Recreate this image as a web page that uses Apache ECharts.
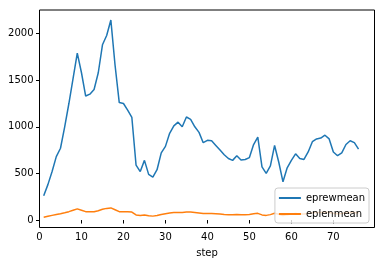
<!DOCTYPE html>
<html>
<head>
<meta charset="utf-8">
<script src="https://cdn.jsdelivr.net/npm/echarts@6/dist/echarts.min.js"></script>
<style>html,body{margin:0;padding:0;background:#fff;}#c{width:384px;height:266px;}</style>
</head>
<body>
<div id="c"></div>
<script>
const steps = [];
for (let i = 1; i <= 76; i++) steps.push(i);
const eprewmean = [260,380,520,680,770,1000,1250,1520,1790,1580,
  1330,1350,1400,1580,1880,1980,2145,1660,1260,1250,
  1180,1100,590,520,640,490,460,540,720,790,
  930,1010,1050,1000,1105,1080,1000,940,830,855,
  850,800,750,700,660,640,690,645,650,670,
  810,890,570,500,580,800,620,410,560,640,
  710,660,650,730,840,870,880,910,870,730,
  690,720,810,850,830,760];
const eplenmean = [30,40,50,60,68,78,90,105,120,105,
  90,88,90,100,115,125,130,110,90,88,
  88,85,55,50,55,45,42,48,60,68,
  75,80,82,82,86,85,80,75,70,70,
  70,68,65,60,58,58,60,58,58,60,
  68,72,55,50,58,72,62,48,58,65,
  70,66,65,70,78,80,82,85,82,72,
  68,70,78,80,80,75];
const xTicks = [0,10,20,30,40,50,60,70];
const yTicks = [0,500,1000,1500,2000];

const font = 'DejaVu Sans';
const chart = echarts.init(document.getElementById('c'), null, {renderer:'canvas'});
chart.setOption({
  animation: false,
  backgroundColor: '#fff',
  grid: {left: 39.5, right: 9.5, top: 10, bottom: 38.5, show: true, borderColor: '#000', borderWidth: 1, backgroundColor: 'transparent'},
  xAxis: {
    type: 'value', min: 0, max: 79.8,
    name: 'step', nameLocation: 'middle', nameGap: 21,
    nameTextStyle: {fontFamily: font, fontSize: 10, color: '#000'},
    axisLine: {show: false},
    splitLine: {show: false},
    axisTick: {show: true, inside: false, length: 3.5, lineStyle: {color: '#000'}, customValues: xTicks},
    axisLabel: {fontFamily: font, fontSize: 10, color: '#000', margin: 5, customValues: xTicks, formatter: v => String(v)}
  },
  yAxis: {
    type: 'value', min: -80, max: 2253,
    axisLine: {show: false},
    splitLine: {show: false},
    axisTick: {show: true, inside: false, length: 3.5, lineStyle: {color: '#000'}, customValues: yTicks},
    axisLabel: {fontFamily: font, fontSize: 10, color: '#000', margin: 6, customValues: yTicks, formatter: v => String(v)}
  },
  legend: {
    orient: 'vertical', right: 15, bottom: 43,
    data: ['eprewmean', 'eplenmean'],
    icon: 'rect', itemWidth: 22, itemHeight: 2, itemGap: 6,
    padding: [5, 4, 4, 4],
    backgroundColor: 'rgba(255,255,255,0.8)', borderColor: '#ccc', borderWidth: 1, borderRadius: 3,
    textStyle: {fontFamily: font, fontSize: 10, color: '#000'}
  },
  series: [
    {name: 'eprewmean', type: 'line', data: steps.map((s, i) => [s, eprewmean[i]]), showSymbol: false, lineStyle: {color: '#1f77b4', width: 1.5}, itemStyle: {color: '#1f77b4'}, z: 3},
    {name: 'eplenmean', type: 'line', data: steps.map((s, i) => [s, eplenmean[i]]), showSymbol: false, lineStyle: {color: '#ff7f0e', width: 1.5}, itemStyle: {color: '#ff7f0e'}, z: 2}
  ]
});
</script>
</body>
</html>
